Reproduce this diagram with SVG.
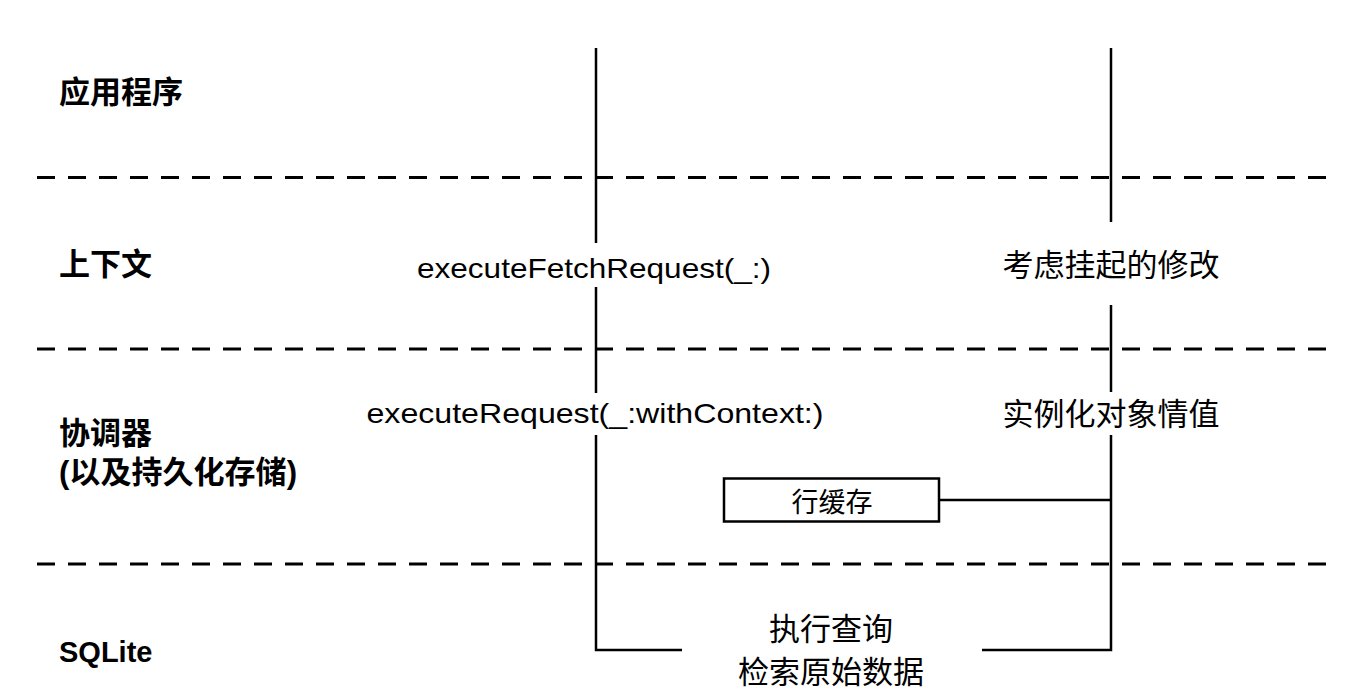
<svg xmlns="http://www.w3.org/2000/svg" width="1368" height="698" viewBox="0 0 1368 698">
  <style>
    .lane { font-family: "Liberation Sans", "Noto Sans CJK SC", sans-serif; font-weight: bold; font-size: 31px; fill: #000; }
    .lbl { font-family: "Noto Sans CJK SC", "Liberation Sans", sans-serif; font-size: 31px; fill: #000; text-anchor: middle; }
    .code { font-family: "Liberation Sans", sans-serif; font-size: 28px; fill: #000; text-anchor: middle; }
    .dash { stroke: #000; stroke-width: 3; stroke-dasharray: 18 13; fill: none; }
    .wire { stroke: #000; stroke-width: 2.5; fill: none; }
    .box { stroke: #000; stroke-width: 2.5; fill: #fff; }
  </style>
  <rect x="0" y="0" width="1368" height="698" fill="#fff"/>

  <g id="separators">
    <line class="dash" x1="37" y1="177.5" x2="1326" y2="177.5"/>
    <line class="dash" x1="37" y1="349" x2="1326" y2="349"/>
    <line class="dash" x1="37" y1="564" x2="1326" y2="564"/>
  </g>

  <g id="lane-app"><text class="lane" x="59" y="103">应用程序</text></g>
  <g id="lane-context"><text class="lane" x="59" y="275">上下文</text></g>
  <g id="lane-coordinator">
    <text class="lane" x="59" y="444">协调器</text>
    <text class="lane" x="59" y="483" textLength="238" lengthAdjust="spacingAndGlyphs">(以及持久化存储)</text>
  </g>
  <g id="lane-sqlite"><text class="lane" x="59" y="661.5" style="font-size:29px">SQLite</text></g>

  <g id="connectors">
    <polyline class="wire" points="596,48 596,243"/>
    <polyline class="wire" points="596,287 596,393"/>
    <polyline class="wire" points="596,435 596,650 682,650"/>
    <polyline class="wire" points="1111,48 1111,222"/>
    <polyline class="wire" points="1111,305 1111,392"/>
    <polyline class="wire" points="1111,435 1111,650 982,650"/>
    <polyline class="wire" points="940,500 1111,500"/>
  </g>

  <g id="executeFetchRequest"><text class="code" x="594" y="278" textLength="354" lengthAdjust="spacingAndGlyphs">executeFetchRequest(_:)</text></g>
  <g id="executeRequest"><text class="code" x="595" y="423" textLength="457" lengthAdjust="spacingAndGlyphs">executeRequest(_:withContext:)</text></g>
  <g id="pending-changes"><text class="lbl" x="1111" y="275.5">考虑挂起的修改</text></g>
  <g id="instantiate"><text class="lbl" x="1111" y="425">实例化对象情值</text></g>
  <g id="row-cache">
    <rect class="box" x="724" y="478.5" width="215" height="43"/>
    <text class="lbl" x="832" y="512" style="font-size:27px">行缓存</text>
  </g>
  <g id="query">
    <text class="lbl" x="831" y="639.5">执行查询</text>
    <text class="lbl" x="831" y="683">检索原始数据</text>
  </g>
</svg>
